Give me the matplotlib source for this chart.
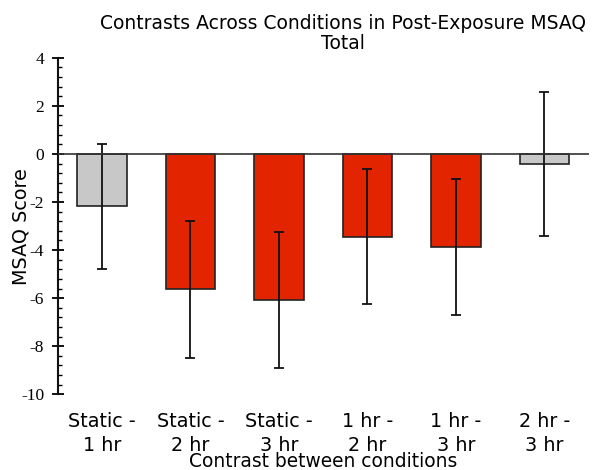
import matplotlib
matplotlib.use("Agg")
import matplotlib.pyplot as plt
from matplotlib.ticker import MultipleLocator

plt.rcParams["axes.unicode_minus"] = False

categories = ["Static -\n1 hr", "Static -\n2 hr", "Static -\n3 hr",
              "1 hr -\n2 hr", "1 hr -\n3 hr", "2 hr -\n3 hr"]
means = [-2.18, -5.63, -6.08, -3.44, -3.86, -0.42]
errors = [2.59, 2.85, 2.83, 2.81, 2.82, 3.01]
significant = [False, True, True, True, True, False]

RED = "#E32400"
GRAY = "#C8C8C8"
colors = [RED if s else GRAY for s in significant]

fig = plt.figure(figsize=(5.95, 4.7), dpi=100)
ax = fig.add_axes([0.097, 0.161, 0.8925, 0.716])

x = list(range(len(categories)))
ax.bar(x, means, width=0.555, color=colors, edgecolor="#222222", linewidth=1.2, zorder=2)
ax.errorbar(x, means, yerr=errors, fmt="none", ecolor="#111111", elinewidth=1.3,
            capsize=3.3, capthick=1.3, zorder=3)
ax.axhline(0, color="#333333", linewidth=1.2, zorder=4)

ax.set_xlim(-0.5, 5.5)
ax.set_ylim(-10, 4)
ax.yaxis.set_major_locator(MultipleLocator(2))
ax.yaxis.set_minor_locator(MultipleLocator(0.4))

for s in ["top", "right", "bottom"]:
    ax.spines[s].set_visible(False)
ax.spines["left"].set_linewidth(1.5)
ax.spines["left"].set_color("#111111")

ax.set_xticks(x)
ax.set_xticklabels(categories, fontsize=13.8, family="DejaVu Sans", linespacing=1.3)
ax.tick_params(axis="x", length=0, pad=13)
ax.tick_params(axis="y", which="major", direction="inout", length=8, width=1.3, pad=5.7)
ax.tick_params(axis="y", which="minor", direction="in", length=2.6, width=1.0)
plt.setp(ax.get_yticklabels(), fontsize=12.5, family="Liberation Serif")

ax.set_ylabel("MSAQ Score", fontsize=13.8)
ax.yaxis.set_label_coords(-0.052, 0.5)
ax.set_xlabel("Contrast between conditions", fontsize=13.4)
ax.xaxis.set_label_coords(0.5, -0.171)
ax.set_title("Contrasts Across Conditions in Post-Exposure MSAQ\nTotal",
             fontsize=13.5, pad=6.3, linespacing=1.07, x=0.538)

fig.savefig("out.png", dpi=100)
